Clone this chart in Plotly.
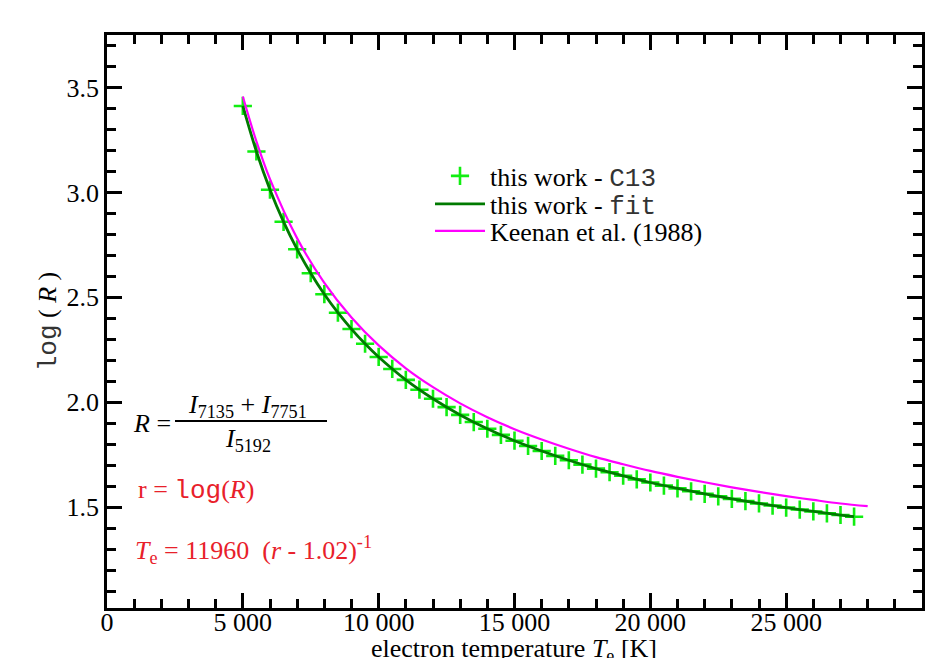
import plotly.graph_objects as go

# ---------------- data ----------------
c13_temps = [5000, 5500, 6000, 6500, 7000, 7500, 8000, 8500, 9000, 9500,
             10000, 10500, 11000, 11500, 12000, 12500, 13000, 13500, 14000, 14500,
             15000, 15500, 16000, 16500, 17000, 17500, 18000, 18500, 19000, 19500,
             20000, 20500, 21000, 21500, 22000, 22500, 23000, 23500, 24000, 24500,
             25000, 25500, 26000, 26500, 27000, 27500]
c13_logR = [3.412, 3.195, 3.013, 2.860, 2.729, 2.615, 2.515, 2.427, 2.349, 2.279,
            2.216, 2.159, 2.107, 2.060, 2.017, 1.977, 1.940, 1.906, 1.874, 1.845,
            1.817, 1.792, 1.768, 1.745, 1.724, 1.703, 1.684, 1.667, 1.650, 1.633,
            1.618, 1.603, 1.590, 1.576, 1.564, 1.552, 1.540, 1.529, 1.518, 1.508,
            1.498, 1.489, 1.480, 1.471, 1.463, 1.455]

fit_temps = [5000, 5500, 6000, 6500, 7000, 7500, 8000, 8500, 9000, 9500,
             10000, 11000, 12000, 13000, 14000, 15000, 16000, 17000, 18000, 19000,
             20000, 21000, 22000, 23000, 24000, 25000, 26000, 27000, 27500]
fit_logR = [3.412, 3.195, 3.013, 2.860, 2.729, 2.615, 2.515, 2.427, 2.349, 2.279,
            2.216, 2.107, 2.017, 1.940, 1.874, 1.817, 1.768, 1.724, 1.684, 1.650,
            1.618, 1.590, 1.564, 1.540, 1.518, 1.498, 1.480, 1.463, 1.455]

keenan_temps = [5000, 5500, 6000, 7000, 8000, 9000, 10000, 11000, 12000, 13000,
                14000, 15000, 16000, 17000, 18000, 19000, 20000, 21000, 22000, 23000,
                24000, 25000, 26000, 27000, 28000]
keenan_logR = [3.457, 3.243, 3.063, 2.781, 2.569, 2.404, 2.271, 2.162, 2.072, 1.995,
               1.929, 1.872, 1.823, 1.779, 1.739, 1.705, 1.673, 1.645, 1.619, 1.595,
               1.573, 1.553, 1.535, 1.518, 1.505]

x_tick_vals = [0, 5000, 10000, 15000, 20000, 25000]
x_tick_text = ["0", "5 000", "10 000", "15 000", "20 000", "25 000"]
y_tick_vals = [1.5, 2.0, 2.5, 3.0, 3.5]
y_tick_text = ["1.5", "2.0", "2.5", "3.0", "3.5"]

# ---------------- style ----------------
SERIF = "Liberation Serif, Times New Roman, serif"
MONO_SPAN = "<span style='font-family:Liberation Mono;color:#333333'>{}</span>"
RED = "#e8202a"
OFF = 8                      # page body margin
W, H = 928, 650              # figure size (page = 944 x 666 with body margin)
SL, SR, ST, SB = 107, 922, 35, 608   # plot frame in screen pixels
L, R, T, B = SL - OFF, SR - OFF, ST - OFF, SB - OFF


def px(x):
    return (x - OFF - L) / (R - L)


def py(y):
    return 1 - (y - OFF - T) / (B - T)


fig = go.Figure()
fig.add_trace(go.Scatter(
    x=c13_temps, y=c13_logR, mode="markers",
    name="this work - " + MONO_SPAN.format("C13"),
    marker=dict(symbol="cross-thin", size=13, color="#11ee11",
                line=dict(color="#11ee11", width=2.6)),
    legend="legend",
))
fig.add_trace(go.Scatter(
    x=fit_temps, y=fit_logR, mode="lines",
    name="this work - " + MONO_SPAN.format("fit"),
    line=dict(color="#007a00", width=2.8, shape="spline"),
    legend="legend2",
))
fig.add_trace(go.Scatter(
    x=keenan_temps, y=keenan_logR, mode="lines",
    name="Keenan et al. (1988)",
    line=dict(color="#ff00ff", width=2.2, shape="spline"),
    legend="legend3",
))

axis_common = dict(
    showline=True, linewidth=2.5, linecolor="black", mirror="ticks",
    ticks="inside", tickwidth=2.5, tickcolor="black", ticklen=15,
    showgrid=False, zeroline=False,
    tickfont=dict(family=SERIF, size=26, color="black"),
)

fig.update_xaxes(
    range=[0, 30000], tickmode="array", tickvals=x_tick_vals, ticktext=x_tick_text,
    minor=dict(tickmode="linear", tick0=0, dtick=1000, ticks="inside",
               ticklen=9, tickwidth=2.5, tickcolor="black"),
    ticklabelstandoff=-11,
    **axis_common,
)
fig.update_yaxes(
    range=[1.02, 3.75], tickmode="array", tickvals=y_tick_vals, ticktext=y_tick_text,
    minor=dict(tickmode="linear", tick0=0, dtick=0.1, ticks="inside",
               ticklen=9, tickwidth=2.5, tickcolor="black"),
    title=dict(text=MONO_SPAN.format("log") + " ( <i>R</i> )",
               font=dict(family=SERIF, size=26, color="black"), standoff=3),
    **axis_common,
)

ann = []
ann.append(dict(x=px(514), y=py(650),
                text="electron temperature <i>T</i><sub>e</sub> [K]",
                xanchor="center", yanchor="middle",
                font=dict(family=SERIF, size=26, color="black")))
ann.append(dict(x=px(131), y=py(423), text="<i>R</i> =", xanchor="left", yanchor="middle",
                font=dict(family=SERIF, size=26, color="black")))
ann.append(dict(x=px(247), y=py(406), text="<i>I</i><sub>7135</sub> + <i>I</i><sub>7751</sub>",
                xanchor="center", yanchor="middle",
                font=dict(family=SERIF, size=26, color="black")))
ann.append(dict(x=px(248), y=py(440), text="<i>I</i><sub>5192</sub>",
                xanchor="center", yanchor="middle",
                font=dict(family=SERIF, size=26, color="black")))
ann.append(dict(x=px(136), y=py(490),
                text="r = <span style='font-family:Liberation Mono'>log</span>(<i>R</i>)",
                xanchor="left", yanchor="middle",
                font=dict(family=SERIF, size=26, color=RED)))
ann.append(dict(x=px(133), y=py(550),
                text="<i>T</i><sub>e</sub> = 11960  (<i>r</i> - 1.02)<sup>-1</sup>",
                xanchor="left", yanchor="middle",
                font=dict(family=SERIF, size=26, color=RED)))
for a in ann:
    a.update(xref="paper", yref="paper", showarrow=False)

leg_common = dict(xanchor="left", yanchor="middle", bgcolor="rgba(0,0,0,0)",
                  borderwidth=0, itemwidth=50,
                  font=dict(family=SERIF, size=26, color="black"))

fig.update_layout(
    width=W, height=H,
    margin=dict(l=L, r=W - R, t=T, b=H - B),
    paper_bgcolor="white", plot_bgcolor="white",
    annotations=ann,
    shapes=[dict(type="line", xref="paper", yref="paper",
                 x0=px(175), x1=px(327), y0=py(421), y1=py(421),
                 line=dict(color="black", width=1.8))],
    legend=dict(x=px(430), y=py(176), **leg_common),
    legend2=dict(x=px(430), y=py(204), **leg_common),
    legend3=dict(x=px(430), y=py(231), **leg_common),
    showlegend=True,
)

fig.write_html("out.html")
